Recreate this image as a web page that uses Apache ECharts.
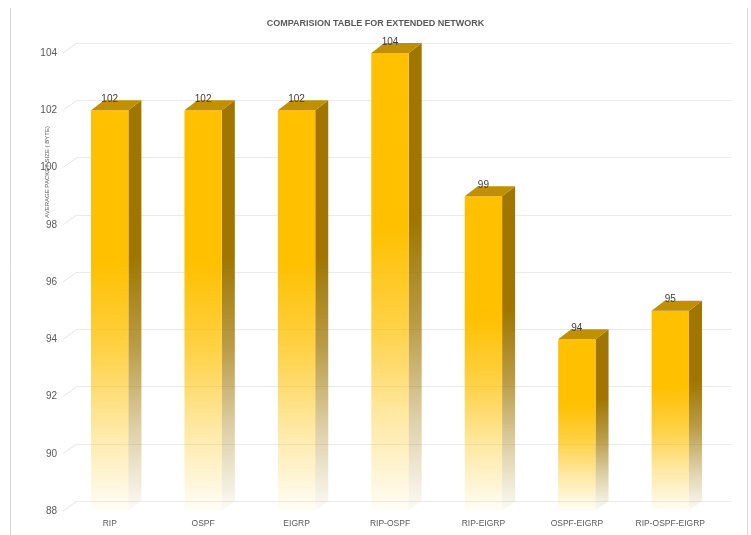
<!DOCTYPE html>
<html>
<head>
<meta charset="utf-8">
<script src="https://cdn.jsdelivr.net/npm/echarts@6/dist/echarts.min.js"></script>
<style>
  html, body { margin: 0; padding: 0; background: #ffffff; }
  #chart { width: 751px; height: 535px; }
</style>
</head>
<body>
<div id="chart"></div>
<script>
// Average packet size per routing protocol combination
const categories = ['RIP', 'OSPF', 'EIGRP', 'RIP-OSPF', 'RIP-EIGRP', 'OSPF-EIGRP', 'RIP-OSPF-EIGRP'];
const packetSize = [102, 102, 102, 104, 99, 94, 95];
const yTicks = [88, 90, 92, 94, 96, 98, 100, 102, 104];

const Y_MIN = 88, Y_MAX = 104, Y_STEP = 2;
const DEPTH_X = 13, DEPTH_Y = 10;   // 3D extrusion offset
const FONT = 'Liberation Sans, Arial, sans-serif';
const TEXT = '#595959';

const chart = echarts.init(document.getElementById('chart'), null, { renderer: 'canvas' });

function fade(c) {
  return new echarts.graphic.LinearGradient(0, 0, 0, 1, [
    { offset: 0, color: 'rgba(' + c + ',1)' },
    { offset: 0.38, color: 'rgba(' + c + ',1)' },
    { offset: 0.6, color: 'rgba(' + c + ',0.72)' },
    { offset: 0.8, color: 'rgba(' + c + ',0.35)' },
    { offset: 1, color: 'rgba(' + c + ',0.03)' }
  ]);
}

// Draws an extruded bar: front face, right side and top face, plus value label
function renderBar(params, api) {
  const idx = api.value(0);
  const val = api.value(1);
  const top = api.coord([idx, val]);
  const base = api.coord([idx, Y_MIN]);
  const w = api.size([1, 0])[0] * 0.4;
  const x0 = top[0] - w / 2, x1 = top[0] + w / 2;
  const yT = top[1], yB = base[1];
  return {
    type: 'group',
    children: [
      {
        type: 'polygon',
        shape: { points: [[x1, yT], [x1 + DEPTH_X, yT - DEPTH_Y], [x1 + DEPTH_X, yB - DEPTH_Y], [x1, yB]] },
        style: { fill: fade('160,118,0') }
      },
      {
        type: 'rect',
        shape: { x: x0, y: yT, width: w, height: yB - yT },
        style: { fill: fade('255,192,0') }
      },
      {
        type: 'polygon',
        shape: { points: [[x0, yT], [x0 + DEPTH_X, yT - DEPTH_Y], [x1 + DEPTH_X, yT - DEPTH_Y], [x1, yT]] },
        style: { fill: '#C09000' }
      },
      {
        type: 'text',
        style: {
          text: String(val),
          x: top[0], y: yT - 11,
          align: 'center', verticalAlign: 'middle',
          font: '10px ' + FONT, fill: '#404040'
        }
      }
    ]
  };
}

// Slanted connectors joining the front tick positions to the back wall gridlines
function renderConnector(params, api) {
  const p = api.coord([0, api.value(0)]);
  return {
    type: 'line',
    shape: { x1: p[0] - DEPTH_X - 1, y1: p[1] + DEPTH_Y, x2: p[0], y2: p[1] },
    style: { stroke: '#E6E6E6', lineWidth: 1 }
  };
}

chart.setOption({
  animation: false,
  backgroundColor: '#ffffff',
  title: {
    text: 'COMPARISION TABLE FOR EXTENDED NETWORK',
    left: 'center', top: 14,
    textStyle: { fontFamily: FONT, fontSize: 9, fontWeight: 'bold', color: TEXT }
  },
  graphic: [
    { type: 'line', shape: { x1: 10.5, y1: 8, x2: 10.5, y2: 535 }, style: { stroke: '#D9D9D9', lineWidth: 1 } },
    { type: 'line', shape: { x1: 747.5, y1: 8, x2: 747.5, y2: 535 }, style: { stroke: '#D9D9D9', lineWidth: 1 } },
    {
      type: 'text', x: 47, y: 172, rotation: Math.PI / 2,
      style: {
        text: 'AVERAGE PACKET SIZE ( BYTE)', align: 'center', verticalAlign: 'middle',
        font: '6px ' + FONT, fill: TEXT
      },
      z: 10
    }
  ],
  grid: [
    { left: 63, right: 34, top: 53, bottom: 24 },   // front plane (bars, labels)
    { left: 77, right: 19, top: 43, bottom: 34 }    // back wall (gridlines)
  ],
  xAxis: [
    {
      gridIndex: 0, type: 'category', data: categories,
      axisLine: { show: false }, axisTick: { show: false },
      axisLabel: { interval: 0, margin: 8, fontFamily: FONT, fontSize: 8.5, color: TEXT }
    },
    { gridIndex: 1, type: 'value', min: 0, max: 1, show: false }
  ],
  yAxis: [
    {
      gridIndex: 0, type: 'value', min: Y_MIN, max: Y_MAX, interval: Y_STEP,
      axisLine: { show: false }, axisTick: { show: false }, splitLine: { show: false },
      axisLabel: { margin: 6, fontFamily: FONT, fontSize: 10, color: TEXT }
    },
    {
      gridIndex: 1, type: 'value', min: Y_MIN, max: Y_MAX, interval: Y_STEP,
      axisLine: { show: false }, axisTick: { show: false }, axisLabel: { show: false },
      splitLine: { show: true, lineStyle: { color: '#EBEBEB', width: 1 } }
    }
  ],
  series: [
    {
      type: 'custom', xAxisIndex: 1, yAxisIndex: 1,
      renderItem: renderConnector,
      data: yTicks.map(v => [v]),
      encode: { y: 0 }, z: 1, silent: true
    },
    {
      type: 'custom', xAxisIndex: 0, yAxisIndex: 0,
      renderItem: renderBar,
      data: packetSize.map((v, i) => [i, v]),
      encode: { x: 0, y: 1 }, z: 5
    }
  ]
});
</script>
</body>
</html>
